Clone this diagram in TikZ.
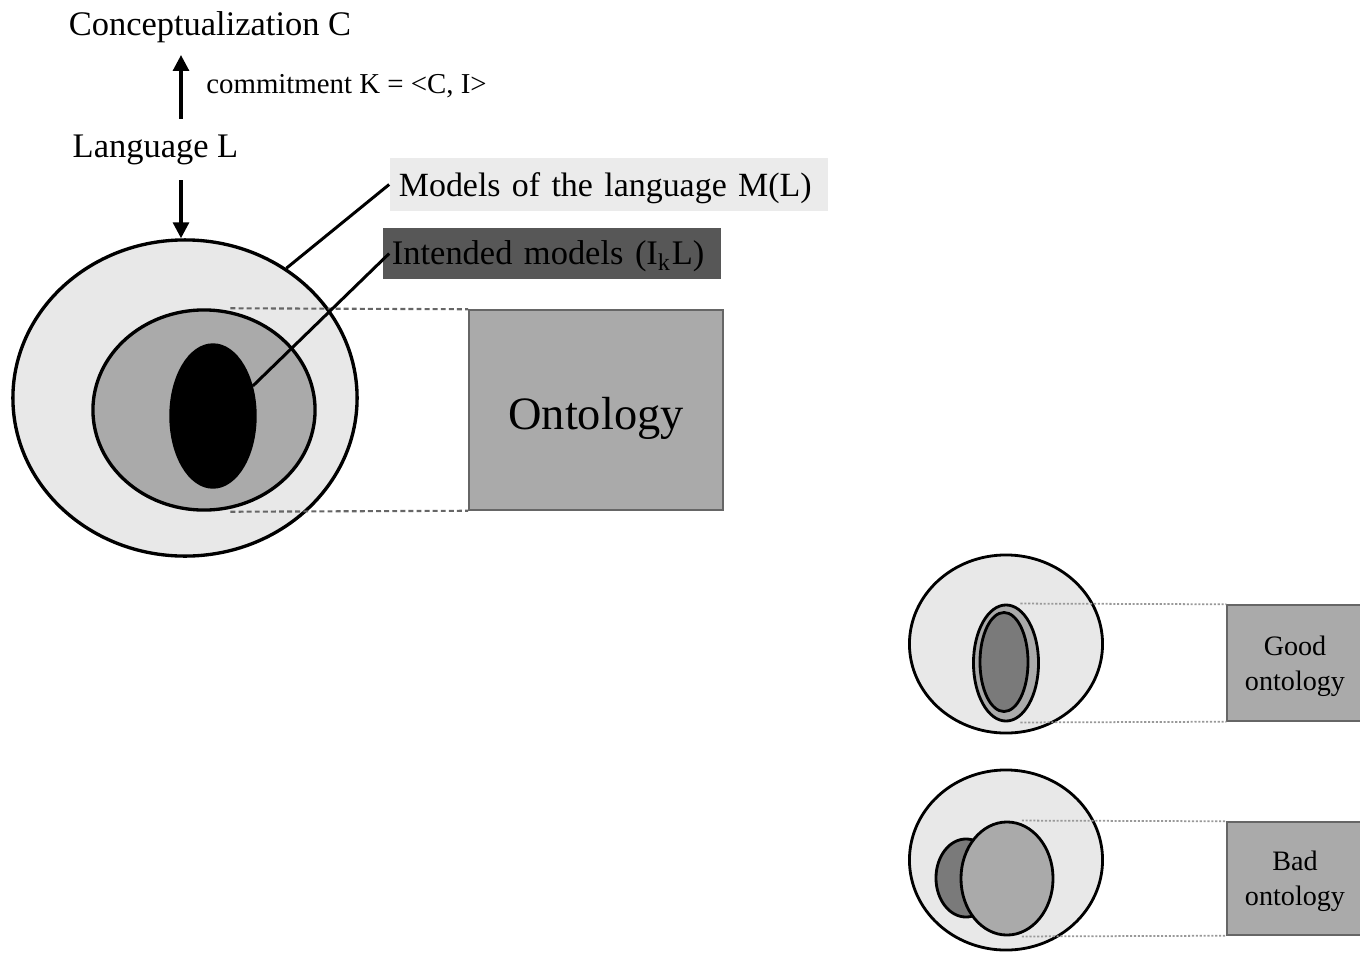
\documentclass[tikz,border=0pt]{standalone}
\usepackage{fontspec}
\setmainfont{Liberation Serif}
\usetikzlibrary{shapes.geometric, arrows.meta}
\definecolor{palegray}{HTML}{E8E8E8}
\definecolor{midgray}{HTML}{AAAAAA}
\definecolor{lightbox}{HTML}{EBEBEB}
\definecolor{boxdark}{HTML}{575757}
\definecolor{coregray}{HTML}{7A7A7A}

\begin{document}
\begin{tikzpicture}[
    x=0.01cm,y=-0.01cm,
    txt/.style={font=\fontsize{9.8}{11}\selectfont},
    small/.style={font=\fontsize{8}{10}\selectfont},
    oval/.style={ellipse, draw, line width=0.95pt, inner sep=0pt},
    arr/.style={line width=0.9pt, -{Triangle[length=4.5pt,width=4.5pt]}},
    leader/.style={line width=0.85pt},
    dashline/.style={black!60, line width=0.6pt, dash pattern=on 1.4pt off 0.9pt},
    dotline/.style={black!40, line width=0.5pt, dash pattern=on 0.6pt off 0.5pt},
    ontobox/.style={rectangle, fill=midgray, draw=black!60, line width=0.4pt}
    ]
    \useasboundingbox (0,0) rectangle (1360,954);
    % language and its commitment
    \node[txt] (concept) at (210,27) {Conceptualization C};
    \node[txt] (lang) at (155.5,150) {Language L};
    \node[font=\fontsize{8.2}{10}\selectfont] (commit) at (346.5,86) {commitment K = <C, I>};
    \coordinate (axis) at (181,0);
    % models of the language
    \node[oval, fill=palegray, minimum width=3.44cm, minimum height=3.16cm] (outer) at (185,398) {};
    \node[oval, fill=midgray, minimum width=2.22cm, minimum height=2.0cm] (mset) at (204,410) {};
    \node[ontobox, minimum width=2.54cm, minimum height=2.0cm, text height=11.3pt, text depth=0pt,
      font=\fontsize{13.2}{15}\selectfont] (onto) at (596,410) {Ontology};
    \draw[dashline] (mset.north -| mset.75) -- (onto.north west);
    \draw[dashline] (mset.south -| mset.-75) -- (onto.south west);
    \node[oval, fill=black, minimum width=0.84cm, minimum height=1.42cm] (iset) at (213,416) {};
    \node[font=\fontsize{9.65}{11}\selectfont, fill=lightbox, text width=4.2cm, inner xsep=0.09cm, minimum height=0.52cm,
      text height=7.1pt, text depth=0pt, align=left] (mlabel) at (609,184.5) {Models of the language M(L)};
    \node[txt, fill=boxdark, text width=3.2cm, inner xsep=0.09cm, minimum height=0.51cm,
      text height=6.5pt, text depth=0pt, align=left] (ilabel) at (552,253.5) {Intended models (I\textsubscript{k}L)};
    \draw[leader] (outer.52) -- (mlabel.west);
    \draw[leader] (iset.37) -- ([xshift=0.07cm]ilabel.west);
    \draw[arr] ([yshift=0.04cm]lang.north -| axis) -- (concept.south -| axis);
    \draw[arr] ([yshift=-0.03cm]lang.south -| axis) -- (outer.north -| axis);
    % good ontology
    \node[oval, fill=palegray, line width=0.8pt, minimum width=1.93cm, minimum height=1.78cm] (gouter) at (1006,644) {};
    \node[oval, fill=midgray, line width=0.8pt, minimum width=0.65cm, minimum height=1.16cm] (gshell) at (1006,663) {};
    \node[oval, fill=coregray, line width=0.8pt, minimum width=0.48cm, minimum height=0.99cm] (gcore) at (1004,662) {};
    \node[ontobox, small, align=center, text depth=0pt, minimum width=1.36cm, minimum height=1.16cm] (goodbox) at (1295,663) {Good\\ontology};
    \draw[dotline] (gshell.north -| gshell.75) -- (goodbox.north west);
    \draw[dotline] (gshell.south -| gshell.-75) -- (goodbox.south west);
    % bad ontology
    \node[oval, fill=palegray, line width=0.8pt, minimum width=1.93cm, minimum height=1.80cm] (bouter) at (1006,860) {};
    \node[oval, fill=coregray, line width=0.8pt, minimum width=0.60cm, minimum height=0.78cm] (bcore) at (966,878) {};
    \node[oval, fill=midgray, line width=0.8pt, minimum width=0.92cm, minimum height=1.13cm] (bshell) at (1007,878.5) {};
    \node[ontobox, small, align=center, text depth=0pt, minimum width=1.36cm, minimum height=1.13cm] (badbox) at (1295,878.5) {Bad\\ontology};
    \draw[dotline] (bshell.north -| bshell.75) -- (badbox.north west);
    \draw[dotline] (bshell.south -| bshell.-75) -- (badbox.south west);
\end{tikzpicture}
\end{document}
